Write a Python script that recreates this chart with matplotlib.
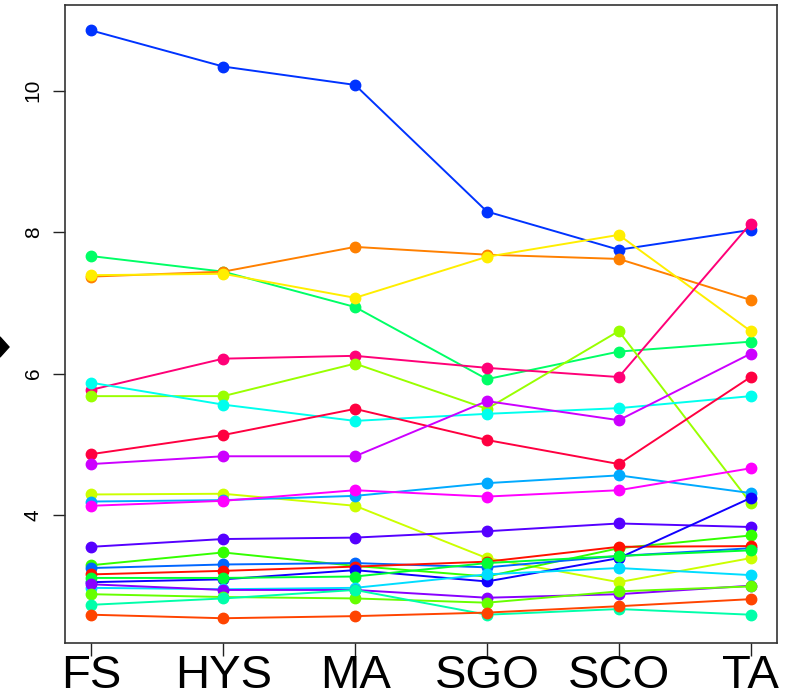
import matplotlib
matplotlib.use("Agg")
import matplotlib.pyplot as plt
from matplotlib.patches import Polygon

plt.rcParams['font.family'] = ['Liberation Sans', 'DejaVu Sans']

stages = ["FS", "HYS", "MA", "SGO", "SCO", "TA"]

# one row per line
series = [
    [10.85, 10.34, 10.08, 8.29, 7.75, 8.03],
    [7.66, 7.44, 6.94, 5.92, 6.31, 6.45],
    [7.37, 7.44, 7.79, 7.68, 7.62, 7.04],
    [7.39, 7.41, 7.07, 7.65, 7.96, 6.60],
    [5.77, 6.21, 6.25, 6.08, 5.95, 8.12],
    [5.68, 5.68, 6.14, 5.50, 6.60, 4.17],
    [5.87, 5.56, 5.33, 5.43, 5.51, 5.68],
    [4.86, 5.13, 5.50, 5.06, 4.72, 5.95],
    [4.72, 4.83, 4.83, 5.61, 5.34, 6.28],
    [4.29, 4.30, 4.13, 3.39, 3.05, 3.39],
    [4.19, 4.21, 4.27, 4.45, 4.56, 4.31],
    [4.13, 4.20, 4.35, 4.26, 4.35, 4.66],
    [3.55, 3.66, 3.68, 3.77, 3.88, 3.83],
    [3.29, 3.47, 3.28, 3.13, 3.53, 3.71],
    [3.25, 3.30, 3.32, 3.26, 3.42, 3.53],
    [3.16, 3.21, 3.27, 3.34, 3.55, 3.56],
    [3.05, 3.09, 3.22, 3.06, 3.39, 4.24],
    [3.11, 3.11, 3.13, 3.32, 3.42, 3.50],
    [2.97, 2.95, 2.97, 3.16, 3.25, 3.15],
    [3.02, 2.94, 2.94, 2.83, 2.88, 3.00],
    [2.88, 2.84, 2.82, 2.76, 2.92, 2.99],
    [2.73, 2.82, 2.94, 2.59, 2.67, 2.59],
    [2.59, 2.54, 2.57, 2.62, 2.71, 2.81],
]
colors = [
    "#0033FF", "#00FF66", "#FF8000", "#FFEE00", "#FF0077", "#99FF00",
    "#00FFEE", "#FF0040", "#CC00FF", "#CCFF00", "#00AAFF", "#FF00FF",
    "#5500FF", "#33FF00", "#0066FF", "#FF1100", "#1100FF", "#00FF33",
    "#00DDFF", "#8800FF", "#66FF00", "#00FFAA", "#FF4400",
]

fig = plt.figure(figsize=(7.88, 7.0), dpi=100)
ax = fig.add_axes([65 / 788, 1 - 643 / 700, 712 / 788, 638 / 700])

x = list(range(len(stages)))
for vals, c in zip(series, colors):
    ax.plot(x, vals, color=c, lw=1.4, marker="o", ms=7.5, mec=c, mfc=c)

ax.set_xlim(-0.2, 5.2)
ax.set_ylim(2.19, 11.21)
ax.set_xticks(x)
ax.set_xticklabels(stages, fontsize=34)
ax.set_yticks([4, 6, 8, 10])
ax.set_yticklabels(["4", "6", "8", "10"], rotation=90, va="center", fontsize=15)
ax.tick_params(axis="both", direction="out", length=9, width=1, color="#222222")
ax.tick_params(axis="x", pad=-1)
ax.tick_params(axis="y", pad=7)
for s in ax.spines.values():
    s.set_color("#333333")
    s.set_linewidth(1.2)

# clipped black marker at the left edge
W, H = 788, 700
pts = [(-9, 347), (0, 337), (9, 347), (0, 357)]
fig.patches.append(Polygon([(px / W, 1 - py / H) for px, py in pts],
                           closed=True, color="black", transform=fig.transFigure))

fig.savefig("out.png", dpi=100)
